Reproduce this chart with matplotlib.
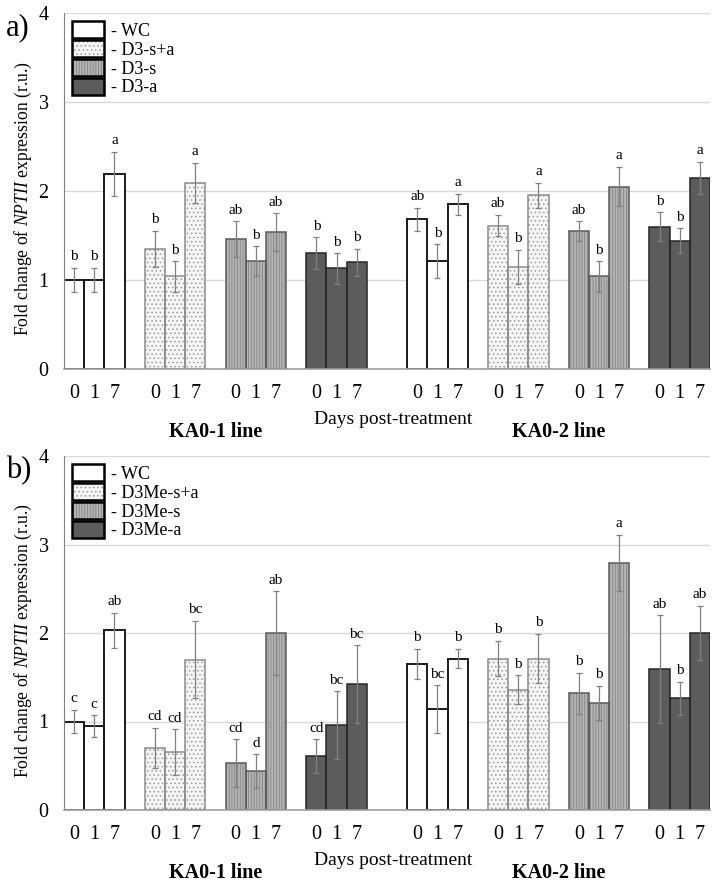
"""Fold change of NPTII expression, panels a) and b)."""

import matplotlib
matplotlib.use("Agg")
import matplotlib.pyplot as plt
from matplotlib.patches import Patch
from matplotlib.legend_handler import HandlerTuple
from matplotlib.transforms import blended_transform_factory

plt.rcParams["font.family"] = ["Liberation Serif", "DejaVu Serif"]
plt.rcParams["mathtext.fontset"] = "custom"
plt.rcParams["mathtext.rm"] = "Liberation Serif"
plt.rcParams["mathtext.it"] = "Liberation Serif:italic"
plt.rcParams["hatch.linewidth"] = 0.6

days = ["0", "1", "7"]
lines = ["KA0-1 line", "KA0-2 line"]
treat_a = ["WC", "D3-s+a", "D3-s", "D3-a"]
treat_b = ["WC", "D3Me-s+a", "D3Me-s", "D3Me-a"]

# panel a, order: WC(0,1,7), s+a(0,1,7), s(0,1,7), a(0,1,7)
a_ka01_mean = [1.00, 1.00, 2.19, 1.35, 1.04, 2.09, 1.46, 1.21, 1.54, 1.30, 1.13, 1.20]
a_ka01_err = [0.14, 0.14, 0.25, 0.20, 0.17, 0.23, 0.20, 0.17, 0.21, 0.18, 0.17, 0.15]
a_ka01_let = ["b", "b", "a", "b", "b", "a", "ab", "b", "ab", "b", "b", "b"]
a_ka02_mean = [1.68, 1.21, 1.85, 1.61, 1.15, 1.95, 1.55, 1.04, 2.05, 1.60, 1.44, 2.15]
a_ka02_err = [0.13, 0.19, 0.12, 0.12, 0.19, 0.14, 0.11, 0.17, 0.22, 0.16, 0.14, 0.18]
a_ka02_let = ["ab", "b", "a", "ab", "b", "a", "ab", "b", "a", "b", "b", "a"]

# panel b
b_ka01_mean = [1.00, 0.95, 2.03, 0.70, 0.65, 1.70, 0.53, 0.44, 2.00, 0.61, 0.96, 1.42]
b_ka01_err = [0.13, 0.12, 0.20, 0.23, 0.26, 0.44, 0.27, 0.19, 0.47, 0.19, 0.38, 0.44]
b_ka01_let = ["c", "c", "ab", "cd", "cd", "bc", "cd", "d", "ab", "cd", "bc", "bc"]
b_ka02_mean = [1.65, 1.14, 1.71, 1.71, 1.36, 1.71, 1.32, 1.21, 2.79, 1.59, 1.26, 2.00]
b_ka02_err = [0.17, 0.27, 0.11, 0.20, 0.16, 0.28, 0.23, 0.19, 0.32, 0.61, 0.19, 0.31]
b_ka02_let = ["b", "bc", "b", "b", "b", "b", "b", "b", "a", "ab", "b", "ab"]

# fill, hatch, hatch colour, edge colour, edge width
styles = [
    ("white", None, "none", "#1a1a1a", 1.4),
    ("#f5f5f5", "....", "#9a9a9a", "#8c8c8c", 1.1),
    ("#b4b4b4", "||||||", "#858585", "#5a5a5a", 1.1),
    ("#5c5c5c", None, "none", "#262626", 1.1),
]


def bar_layers(ax, x, h, style):
    face, hatch, hcol, ecol, lw = style
    ax.bar(x, h, width=1.0, color=face, edgecolor="none", linewidth=0, zorder=2)
    if hatch:
        ax.bar(x, h, width=1.0, facecolor="none", edgecolor=hcol, hatch=hatch,
               linewidth=0, zorder=2.1)
    ax.bar(x, h, width=1.0, facecolor="none", edgecolor=ecol, linewidth=lw, zorder=2.2)


def plot_panel(ax, series, treatments, tag):
    trans = blended_transform_factory(ax.transData, ax.transAxes)
    ticks = []
    for li, (mean, err, letters) in enumerate(series):
        start = 0 if li == 0 else 17
        for g in range(4):
            x = [start + 4 * g + k + 0.5 for k in range(3)]
            h = mean[3 * g:3 * g + 3]
            e = err[3 * g:3 * g + 3]
            bar_layers(ax, x, h, styles[g])
            ax.errorbar(x, h, yerr=e, fmt="none", ecolor="#808080", elinewidth=0.9,
                        capsize=2.5, capthick=0.9, zorder=3)
            for xi, hi, ei, lab in zip(x, h, e, letters[3 * g:3 * g + 3]):
                ax.annotate(lab, (xi, hi + ei), xytext=(0, 5.5), textcoords="offset points",
                            ha="center", va="baseline", fontsize=11)
            ticks += x
        ax.text(start + 7.5, -0.177, lines[li], transform=trans, ha="center",
                va="center", fontsize=14.5, fontweight="bold")

    ax.set_xlim(0, 32)
    ax.set_ylim(0, 4)
    ax.set_xticks(ticks)
    ax.set_xticklabels(days * 8)
    ax.set_yticks([0, 1, 2, 3, 4])
    ax.tick_params(axis="both", length=0, labelsize=14.5)
    ax.tick_params(axis="x", pad=10.5)
    ax.tick_params(axis="y", pad=11)
    ax.yaxis.grid(True, color="#d9d9d9", linewidth=1.0)
    ax.set_axisbelow(True)
    for side in ["top", "right"]:
        ax.spines[side].set_visible(False)
    ax.spines["left"].set_color("#808080")
    ax.spines["bottom"].set_color("#a0a0a0")
    ax.spines["bottom"].set_linewidth(1.2)

    ax.text(0.51, -0.143, "Days post-treatment", transform=ax.transAxes, ha="center",
            va="center", fontsize=14)
    ax.set_ylabel("Fold change of $\\mathit{NPTII}$ expression (r.u.)", fontsize=12.7)
    ax.yaxis.set_label_coords(-0.046, 0.48)
    ax.text(-0.09, 0.96, tag, transform=ax.transAxes, ha="left", va="center", fontsize=22)

    handles = []
    for face, hatch, hcol, ecol, lw in styles:
        fill = Patch(facecolor=face, edgecolor="none", linewidth=0)
        if hatch:
            hat = Patch(facecolor="none", edgecolor=hcol, hatch=hatch, linewidth=0)
        else:
            hat = Patch(facecolor="none", edgecolor="none", linewidth=0)
        edge = Patch(facecolor="none", edgecolor="black", linewidth=1.8)
        handles.append((fill, hat, edge))
    ax.legend(handles, ["- " + t for t in treatments], loc="upper left",
              bbox_to_anchor=(0.0, 1.0), frameon=False, fontsize=13,
              handler_map={tuple: HandlerTuple(ndivide=1, pad=0)},
              handlelength=1.75, handleheight=1.1, labelspacing=0.0,
              handletextpad=0.4, borderaxespad=0.25, borderpad=0.2)


fig = plt.figure(figsize=(7.16, 8.84), dpi=100)
ax_a = fig.add_axes([64 / 716, 1 - 369 / 884, 646 / 716, 356 / 884])
ax_b = fig.add_axes([64 / 716, 1 - 810 / 884, 646 / 716, 354 / 884])

plot_panel(ax_a, [(a_ka01_mean, a_ka01_err, a_ka01_let), (a_ka02_mean, a_ka02_err, a_ka02_let)],
           treat_a, "a)")
plot_panel(ax_b, [(b_ka01_mean, b_ka01_err, b_ka01_let), (b_ka02_mean, b_ka02_err, b_ka02_let)],
           treat_b, "b)")

fig.savefig("out.png", dpi=100)
